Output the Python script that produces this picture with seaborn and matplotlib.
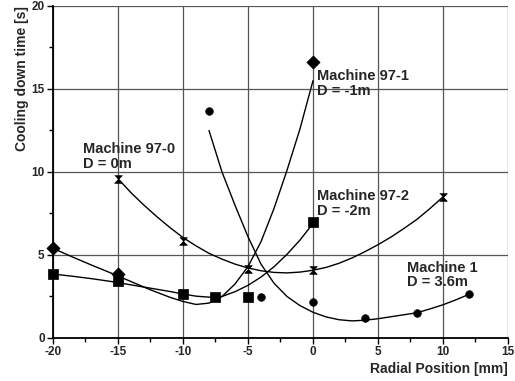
import numpy as np
import pandas as pd
import matplotlib
matplotlib.use('Agg')
import matplotlib.pyplot as plt
import seaborn as sns

# measured points (markers)
m970_x = [-15, -10, -5, 0, 10]
m970_y = [9.6, 5.85, 4.15, 4.1, 8.5]

m971_x = [-20, -15, 0]
m971_y = [5.4, 3.85, 16.6]

m972_x = [-20, -15, -10, -7.5, -5, 0]
m972_y = [3.85, 3.43, 2.65, 2.45, 2.45, 7.0]

m1_x = [-8, -4, 0, 4, 8, 12]
m1_y = [13.7, 2.45, 2.15, 1.2, 1.5, 2.63]

# fitted trend curves
fit970_x = [-15, -14, -13, -12, -11, -10, -9, -8, -7, -6, -5, -4, -3, -2, -1, 0,
            1, 2, 3, 4, 5, 6, 7, 8, 9, 10]
fit970_y = [9.6, 8.75, 8.0, 7.3, 6.65, 6.05, 5.55, 5.1, 4.75, 4.45, 4.22, 4.05,
            3.95, 3.92, 3.97, 4.08, 4.25, 4.5, 4.82, 5.2, 5.62, 6.08, 6.6, 7.15,
            7.8, 8.5]

fit971_x = [-20, -18.5, -17, -15.5, -14, -12.5, -11, -10, -9, -8, -7, -6, -5, -4,
            -3, -2, -1, 0]
fit971_y = [5.4, 4.88, 4.38, 3.9, 3.4, 2.9, 2.45, 2.2, 2.02, 2.1, 2.5, 3.25, 4.3,
            5.8, 7.8, 10.1, 12.6, 15.5]

fit972_x = [-20, -18.5, -17, -15.5, -14, -12.5, -11, -10, -9, -8, -7, -6, -5, -4,
            -3, -2, -1, 0]
fit972_y = [3.85, 3.72, 3.57, 3.4, 3.2, 3.0, 2.8, 2.65, 2.52, 2.46, 2.5, 2.79,
            3.17, 3.67, 4.29, 5.04, 5.9, 6.9]

fit1_x = [-8, -7, -6, -5, -4, -3, -2, -1, 0, 1, 2, 3, 4, 5, 6, 7, 8, 9, 10, 11, 12]
fit1_y = [12.5, 10.0, 8.0, 6.1, 4.45, 3.3, 2.5, 1.95, 1.55, 1.27, 1.1, 1.03, 1.07,
          1.16, 1.28, 1.4, 1.52, 1.75, 2.0, 2.3, 2.63]

x_ticks = [-20, -15, -10, -5, 0, 5, 10, 15]
y_ticks = [0, 5, 10, 15, 20]

sns.set_theme(style='white')
plt.rcParams['font.family'] = ['Liberation Sans', 'DejaVu Sans']
plt.rcParams['font.weight'] = 'bold'
plt.rcParams['axes.unicode_minus'] = False

hourglass = [(-1, 1), (1, 1), (0, 0), (1, -1), (-1, -1), (0, 0)]

series = [
    (m970_x, m970_y, fit970_x, fit970_y, hourglass, 30),
    (m971_x, m971_y, fit971_x, fit971_y, 'D', 45),
    (m972_x, m972_y, fit972_x, fit972_y, 's', 50),
    (m1_x, m1_y, fit1_x, fit1_y, 'o', 30),
]

fig = plt.figure(figsize=(5.15, 3.81), dpi=100)
ax = fig.add_axes([0.1029, 0.1129, 0.8835, 0.8714])

for xs, ys, fx, fy, mk, sz in series:
    fit = pd.DataFrame({'x': fx, 'y': fy})
    sns.lineplot(data=fit, x='x', y='y', ax=ax, color='black', lw=1.0,
                 sort=False, legend=False)
    pts = pd.DataFrame({'x': xs, 'y': ys})
    sns.scatterplot(data=pts, x='x', y='y', ax=ax, marker=mk, s=sz,
                    color='black', edgecolor='black', linewidth=0.5,
                    legend=False, zorder=3, clip_on=False)

ax.set_xlim(-20, 15)
ax.set_ylim(0, 20)
ax.set_xticks(x_ticks)
ax.set_yticks(y_ticks)
ax.set_xticks(np.arange(-20, 15.1, 2.5), minor=True)
ax.set_yticks(np.arange(0, 20.1, 2.5), minor=True)
ax.grid(True, which='major', color='#555555', lw=0.9)
for s in ['top', 'right']:
    ax.spines[s].set_visible(False)
for s in ['left', 'bottom']:
    ax.spines[s].set_color('black')
    ax.spines[s].set_linewidth(1.3)
ax.tick_params(which='both', direction='out', color='black', width=1,
               bottom=True, left=True)
ax.tick_params(which='major', length=4, labelsize=8.5, pad=2)
ax.tick_params(which='minor', length=3)
for lab in ax.get_xticklabels() + ax.get_yticklabels():
    lab.set_fontweight('bold')

ax.set_xlabel('Radial Position [mm]', fontsize=10, fontweight='bold',
              loc='right', labelpad=3)
ax.set_ylabel('Cooling down time [s]', fontsize=10, fontweight='bold',
              loc='top', labelpad=2)

lab_kw = dict(fontsize=10.5, fontweight='bold', va='top', ha='left',
              linespacing=1.05)
ax.text(-17.7, 11.8, 'Machine 97-0\nD = 0m', **lab_kw)
ax.text(0.3, 16.2, 'Machine 97-1\nD = -1m', **lab_kw)
ax.text(0.3, 8.95, 'Machine 97-2\nD = -2m', **lab_kw)
ax.text(7.2, 4.65, 'Machine 1\nD = 3.6m', **lab_kw)

fig.savefig('out.png', dpi=100)
